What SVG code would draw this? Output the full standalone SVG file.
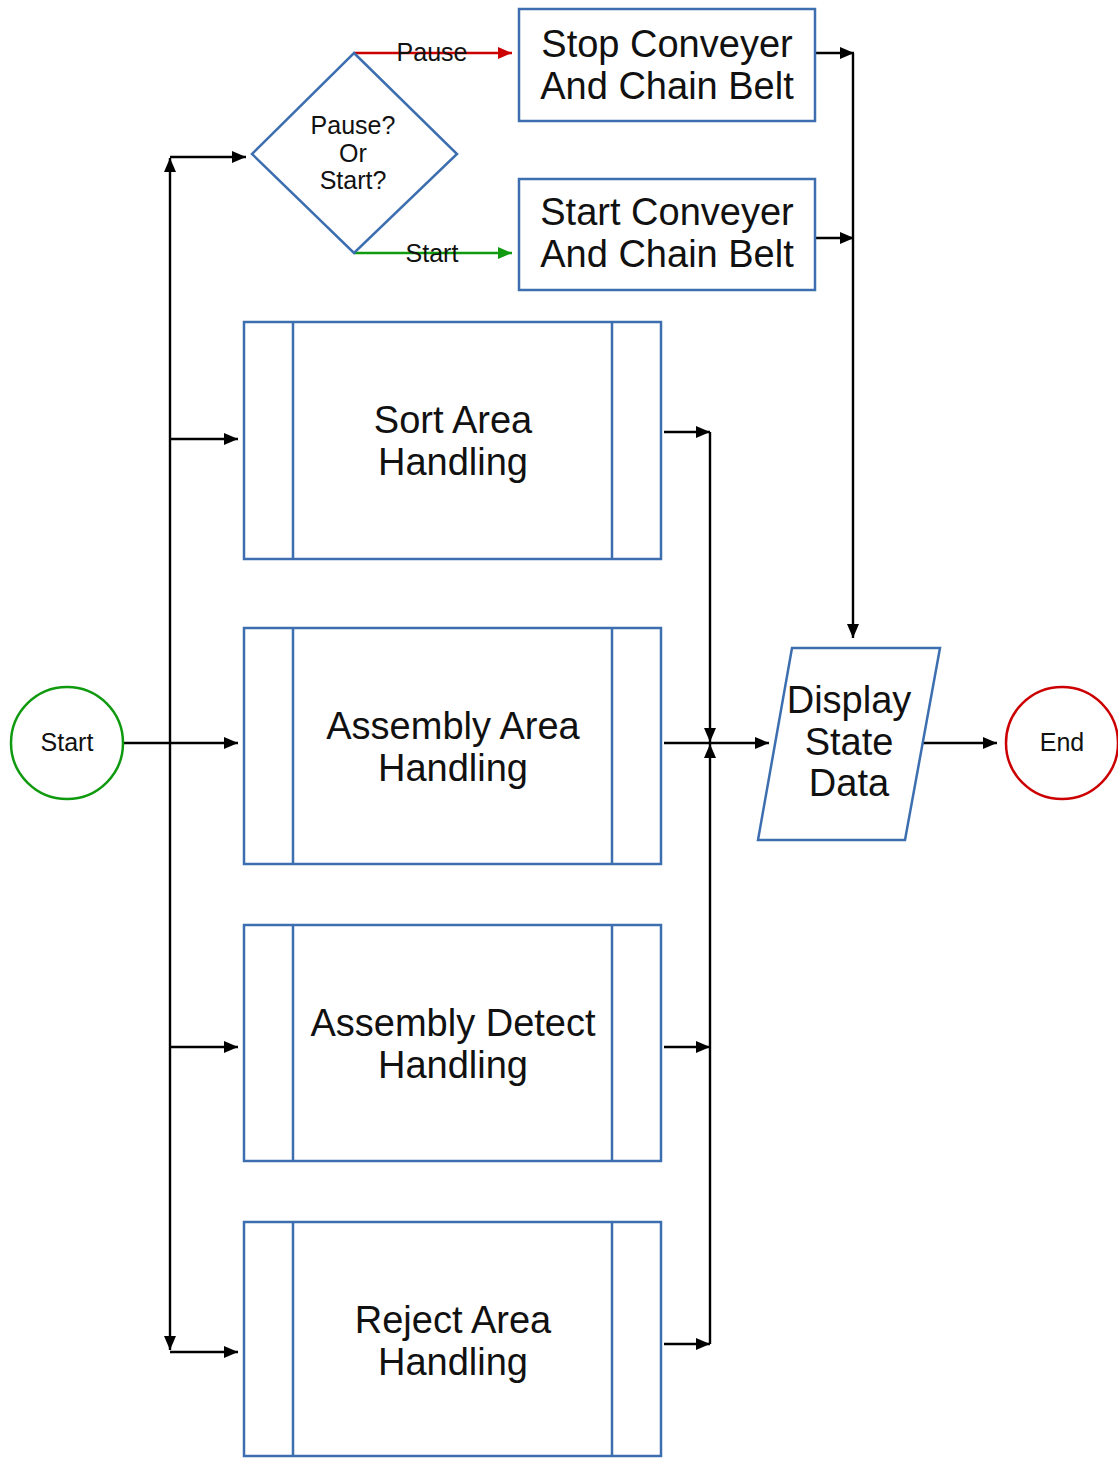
<svg xmlns="http://www.w3.org/2000/svg" width="1118" height="1458" viewBox="0 0 1118 1458">
  <style>
    .box { fill: #ffffff; stroke: #3d6fb0; stroke-width: 2.5; }
    .inner { fill: none; stroke: #3d6fb0; stroke-width: 2.5; }
    .big { font-family: "Liberation Sans", Arial, sans-serif; font-size: 38px; fill: #111111; text-anchor: middle; }
    .small { font-family: "Liberation Sans", Arial, sans-serif; font-size: 25px; fill: #111111; text-anchor: middle; }
    .wire { fill: none; stroke: #000000; stroke-width: 2.4; }
    .red { fill: none; stroke: #cc0000; stroke-width: 2.4; }
    .green { fill: none; stroke: #109a10; stroke-width: 2.4; }
  </style>
  <defs>
    <marker id="ah" markerUnits="userSpaceOnUse" markerWidth="14" markerHeight="12" refX="14" refY="6" orient="auto">
      <path d="M0,0 L14,6 L0,12 z" fill="#000000"/>
    </marker>
    <marker id="ah-red" markerUnits="userSpaceOnUse" markerWidth="14" markerHeight="12" refX="14" refY="6" orient="auto">
      <path d="M0,0 L14,6 L0,12 z" fill="#cc0000"/>
    </marker>
    <marker id="ah-green" markerUnits="userSpaceOnUse" markerWidth="14" markerHeight="12" refX="14" refY="6" orient="auto">
      <path d="M0,0 L14,6 L0,12 z" fill="#109a10"/>
    </marker>
  </defs>

  <rect width="1118" height="1458" fill="#ffffff"/>

  <!-- connectors -->
  <g id="connectors">
    <!-- start to left bus -->
    <path class="wire" d="M124,743 H238" marker-end="url(#ah)"/>
    <path class="wire" d="M170,743 V158" marker-end="url(#ah)"/>
    <path class="wire" d="M170,157 H246" marker-end="url(#ah)"/>
    <path class="wire" d="M170,743 V1350" marker-end="url(#ah)"/>
    <path class="wire" d="M170,1352 H238" marker-end="url(#ah)"/>
    <path class="wire" d="M170,439 H238" marker-end="url(#ah)"/>
    <path class="wire" d="M170,1047 H238" marker-end="url(#ah)"/>

    <!-- decision branches -->
    <path class="red" d="M354,53 H512" marker-end="url(#ah-red)"/>
    <path class="green" d="M354,253 H512" marker-end="url(#ah-green)"/>

    <!-- conveyer outputs to display -->
    <path class="wire" d="M816,53 H854" marker-end="url(#ah)"/>
    <path class="wire" d="M816,238 H854" marker-end="url(#ah)"/>
    <path class="wire" d="M853,53 V638" marker-end="url(#ah)"/>

    <!-- area handlers to right bus -->
    <path class="wire" d="M664,432 H710" marker-end="url(#ah)"/>
    <path class="wire" d="M710,432 V742" marker-end="url(#ah)"/>
    <path class="wire" d="M664,1047 H710" marker-end="url(#ah)"/>
    <path class="wire" d="M664,1344 H710" marker-end="url(#ah)"/>
    <path class="wire" d="M710,1344 V744" marker-end="url(#ah)"/>
    <path class="wire" d="M664,743 H769" marker-end="url(#ah)"/>

    <!-- display to end -->
    <path class="wire" d="M922,743 H997" marker-end="url(#ah)"/>
  </g>

  <g id="start">
    <circle cx="67" cy="743" r="56" fill="#ffffff" stroke="#109a10" stroke-width="2.5"/>
    <text class="small" x="67" y="751">Start</text>
  </g>

  <g id="decision">
    <path class="box" d="M354,53 L457,154 L354,253 L252,154 z"/>
    <text class="small" x="353" y="134">Pause?</text>
    <text class="small" x="353" y="162">Or</text>
    <text class="small" x="353" y="189">Start?</text>
  </g>

  <g id="label-pause">
    <text class="small" x="432" y="61">Pause</text>
  </g>
  <g id="label-start">
    <text class="small" x="432" y="262">Start</text>
  </g>

  <g id="stop-conveyer">
    <rect class="box" x="519" y="9" width="296" height="112"/>
    <text class="big" x="667" y="57">Stop Conveyer</text>
    <text class="big" x="667" y="99">And Chain Belt</text>
  </g>

  <g id="start-conveyer">
    <rect class="box" x="519" y="179" width="296" height="111"/>
    <text class="big" x="667" y="225">Start Conveyer</text>
    <text class="big" x="667" y="267">And Chain Belt</text>
  </g>

  <g id="sort-area">
    <rect class="box" x="244" y="322" width="417" height="237"/>
    <path class="inner" d="M293,322 V559 M612,322 V559"/>
    <text class="big" x="453" y="433">Sort Area</text>
    <text class="big" x="453" y="475">Handling</text>
  </g>

  <g id="assembly-area">
    <rect class="box" x="244" y="628" width="417" height="236"/>
    <path class="inner" d="M293,628 V864 M612,628 V864"/>
    <text class="big" x="453" y="739">Assembly Area</text>
    <text class="big" x="453" y="781">Handling</text>
  </g>

  <g id="assembly-detect">
    <rect class="box" x="244" y="925" width="417" height="236"/>
    <path class="inner" d="M293,925 V1161 M612,925 V1161"/>
    <text class="big" x="453" y="1036">Assembly Detect</text>
    <text class="big" x="453" y="1078">Handling</text>
  </g>

  <g id="reject-area">
    <rect class="box" x="244" y="1222" width="417" height="234"/>
    <path class="inner" d="M293,1222 V1456 M612,1222 V1456"/>
    <text class="big" x="453" y="1333">Reject Area</text>
    <text class="big" x="453" y="1375">Handling</text>
  </g>

  <g id="display-state">
    <path class="box" d="M792,648 L940,648 L905,840 L758,840 z"/>
    <text class="big" x="849" y="713">Display</text>
    <text class="big" x="849" y="755">State</text>
    <text class="big" x="849" y="796">Data</text>
  </g>

  <g id="end">
    <circle cx="1062" cy="743" r="56" fill="#ffffff" stroke="#cc0000" stroke-width="2.5"/>
    <text class="small" x="1062" y="751">End</text>
  </g>
</svg>
